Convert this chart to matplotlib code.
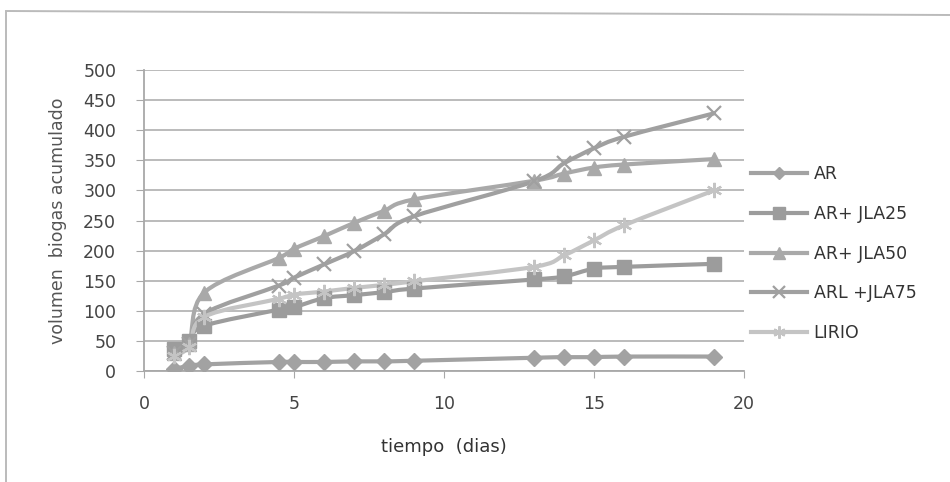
import matplotlib
matplotlib.use("Agg")
import matplotlib.pyplot as plt
from matplotlib.path import Path
from matplotlib.patches import PathPatch
from matplotlib.lines import Line2D

# days of measurement
dias = [1, 1.5, 2, 4.5, 5, 6, 7, 8, 9, 13, 14, 15, 16, 19]

ar = [4, 8, 11, 15, 15, 15, 16, 16, 17, 22, 23, 23, 24, 24]
ar_jla25 = [37, 50, 75, 102, 106, 121, 126, 131, 137, 152, 157, 170, 173, 178]
ar_jla50 = [30, 45, 130, 188, 203, 224, 246, 266, 285, 316, 328, 338, 343, 352]
arl_jla75 = [30, 45, 95, 142, 155, 177, 199, 227, 257, 315, 345, 370, 389, 428]
lirio = [25, 40, 90, 120, 127, 132, 138, 143, 149, 173, 192, 217, 242, 300]

series = [
    ("AR", ar, "D", 8, "#a2a2a2"),
    ("AR+ JLA25", ar_jla25, "s", 10, "#9c9c9c"),
    ("AR+ JLA50", ar_jla50, "^", 10, "#a9a9a9"),
    ("ARL +JLA75", arl_jla75, "x", 10, "#a0a0a0"),
    ("LIRIO", lirio, (6, 2, 0), 11, "#c4c4c4"),
]


def smooth_path(xs, ys):
    # catmull-rom style bezier, like excel's smoothed line
    pts = list(zip(xs, ys))
    verts = [pts[0]]
    codes = [Path.MOVETO]
    n = len(pts)
    for i in range(n - 1):
        p0 = pts[i - 1] if i > 0 else pts[i]
        p1 = pts[i]
        p2 = pts[i + 1]
        p3 = pts[i + 2] if i + 2 < n else pts[i + 1]
        c1 = (p1[0] + (p2[0] - p0[0]) / 6, p1[1] + (p2[1] - p0[1]) / 6)
        c2 = (p2[0] - (p3[0] - p1[0]) / 6, p2[1] - (p3[1] - p1[1]) / 6)
        verts += [c1, c2, p2]
        codes += [Path.CURVE4] * 3
    return Path(verts, codes)


fig = plt.figure(figsize=(9.5, 4.82), dpi=100)
ax = fig.add_axes([144 / 950, 1 - 371 / 482, 600 / 950, 301 / 482])

handles = []
for name, vals, mk, ms, col in series:
    ax.add_patch(PathPatch(smooth_path(dias, vals), facecolor="none",
                           edgecolor=col, lw=3, zorder=3, capstyle="round"))
    mew = 1.6 if mk == "x" or isinstance(mk, tuple) else 1
    ax.plot(dias, vals, ls="none", marker=mk, ms=ms, color=col,
            mec=col, mew=mew, zorder=4)
    handles.append(Line2D([], [], color=col, lw=3, marker=mk,
                          ms=ms * 0.8, mew=mew, label=name))

ax.set_xlim(0, 20)
ax.set_ylim(0, 500)
ax.set_xticks([0, 5, 10, 15, 20])
ax.set_yticks(range(0, 501, 50))
ax.yaxis.grid(True, color="#b5b5b5", lw=1.3)
ax.set_axisbelow(True)
for s in ["top", "right"]:
    ax.spines[s].set_visible(False)
for s in ["left", "bottom"]:
    ax.spines[s].set_color("#a8a8a8")
    ax.spines[s].set_linewidth(1.3)
ax.tick_params(axis="y", direction="out", length=6, color="#a8a8a8",
               labelsize=12.5, labelcolor="#444444", pad=14)
ax.tick_params(axis="x", direction="out", length=5, color="#a8a8a8",
               labelsize=12.5, labelcolor="#444444", pad=12)

ax.set_xlabel("tiempo  (dias)", fontsize=13, color="#333333", labelpad=18)
ax.set_ylabel("volumen  biogas acumulado", fontsize=12.5, color="#555555",
              labelpad=12)

ax.legend(handles=handles, loc="center left", bbox_to_anchor=(1.012, 0.39),
          frameon=False, fontsize=12.5, handlelength=3.2, labelspacing=1.25,
          handletextpad=0.4, labelcolor="#333333", borderpad=0,
          borderaxespad=0)

# outer frame (only left and top visible in the scan)
fig.add_artist(Line2D([6 / 950, 6 / 950], [0, 1 - 12 / 482],
                      transform=fig.transFigure, color="#bbbbbb", lw=1.4))
fig.add_artist(Line2D([6 / 950, 1], [1 - 11 / 482, 1 - 15 / 482],
                      transform=fig.transFigure, color="#bbbbbb", lw=1.4))

fig.savefig("out.png", dpi=100)
